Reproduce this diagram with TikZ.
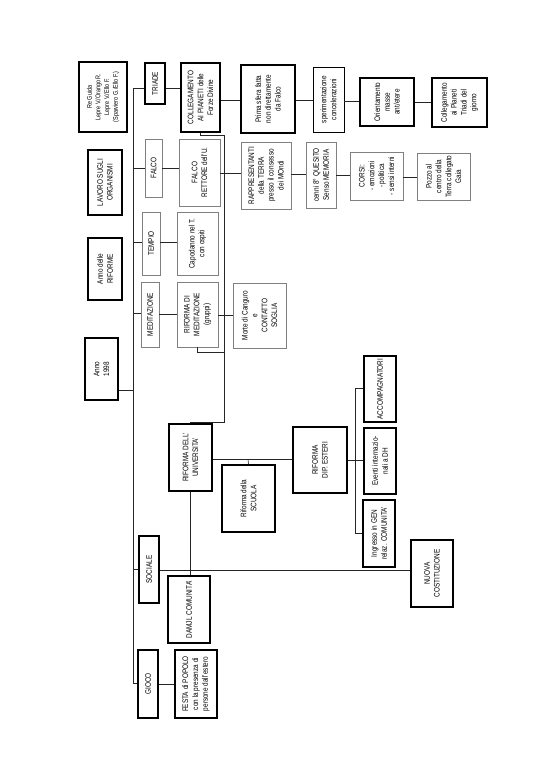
\documentclass[tikz,border=0pt]{standalone}
\usepackage{fontspec}
\setmainfont{Liberation Sans}[FakeStretch=0.8]
\tikzset{
  bb/.style={rotate=90, align=center, inner sep=0.5pt, font=\fontsize{8.8}{10.8}\selectfont},
  thk/.style={bb, draw=black, line width=1.5pt},
  med/.style={bb, draw=black, line width=1pt},
  thn/.style={bb, draw=black!50, line width=0.5pt},
  ln/.style={draw=black!85, line width=0.7pt},
}
\newcommand\hbx[7]{%
  \pgfmathsetmacro\hcx{(#3+#5)/2}%
  \pgfmathsetmacro\hcy{(#4+#6)/2}%
  \pgfmathsetmacro\hbw{(#6-#4)*0.3857}%
  \pgfmathsetmacro\hbh{(#5-#3)*0.3857}%
  \node[#2, minimum width=\hbw mm, minimum height=\hbh mm] (#1) at (\hcx,\hcy) {#7};}
\begin{document}
\begin{tikzpicture}[x=0.3857mm,y=-0.3857mm]
\fill[white] (0,0) rectangle (535,770);
\useasboundingbox (0,0) rectangle (535,770);
% header boxes
\hbx{reg}{thk,font=\fontsize{7.5}{9.5}\selectfont}{79}{62}{127}{132}{Re Guida\\Lepre V./Orango R.\\Lepre V./Ello F.\\(Sparviero G./Ello F.)}
\hbx{lav}{thk}{88}{150}{122}{215}{LAVORO SUGLI\\ORGANISMI}
\hbx{ard}{thk}{88}{238}{122}{300}{Anno delle\\RIFORME}
\hbx{a98}{thk}{85}{338}{118}{400}{Anno\\1998}
% left column
\hbx{tri}{thk}{145}{63}{165}{104}{TRIADE}
\hbx{fal}{thn}{145}{139}{162}{197}{FALCO}
\hbx{tem}{thn}{142}{212}{160}{275}{TEMPIO}
\hbx{med}{thn}{141}{282}{159}{347}{MEDITAZIONE}
\hbx{soc}{thk}{139}{536}{159}{603}{SOCIALE}
\hbx{gio}{thk}{138}{650}{158}{718}{GIOCO}
% second column
\hbx{col}{thk}{181}{63}{220}{132}{COLLEGAMENTO\\AI PIANETI delle\\Forze Divine}
\hbx{fre}{thn}{179}{139}{220}{206}{FALCO\\RETTORE dell'U.}
\hbx{cap}{thn}{177}{212}{218}{275}{Capodanno nel T.\\con ospiti}
\hbx{rim}{thn}{177}{282}{218}{347}{RIFORMA DI\\MEDITAZIONE\\(gruppi)}
\hbx{uni}{thk}{169}{424}{212}{491}{RIFORMA DELL'\\UNIVERSITA'}
\hbx{dam}{thk}{168}{576}{210}{643}{DAMJL COMUNITA'}
\hbx{fes}{thk}{175}{650}{217}{718}{FESTA di POPOLO\\con la presenza di\\persone dall'estero}
% third column
\hbx{pri}{thk}{241}{65}{295}{133}{Prima sfera fatta\\non direttamente\\da Falco}
\hbx{rap}{thn}{241}{142}{291}{209}{RAPPRESENTANTI\\della TERRA\\presso il consesso\\dei MOndi}
\hbx{mor}{thn}{233}{283}{286}{348}{Morte di Canguro\\e\\CONTATTO\\SOGLIA}
\hbx{scu}{thk}{222}{465}{275}{532}{Riforma della\\SCUOLA}
\hbx{dip}{thk}{293}{427}{347}{493}{RIFORMA\\DIP. ESTERI}
% fourth column
\hbx{spe}{med}{313}{67}{344}{132}{sperimentazione\\concelerazioni}
\hbx{cen}{thn}{306}{142}{336}{208}{cenni 8\textdegree{} QUESITO\\Senso MEMORIA}
\hbx{cor}{thn}{350}{152}{403}{200}{CORSI:\\- emozioni\\- politica\\- sensi interni}
\hbx{ori}{thk}{360}{78}{414}{126}{Orientamento\\masse\\ant/etere}
\hbx{cpl}{thk}{432}{78}{487}{127}{Collegamento\\ai Pianeti\\Triadi del\\giorno}
\hbx{poz}{thn}{417}{153}{470}{200}{Pozzo al\\centro della\\Terra collegato\\Gaia}
\hbx{acc}{thk}{364}{356}{396}{422}{ACCOMPAGNATORI}
\hbx{eve}{thk}{364}{428}{396}{494}{Eventi internazio-\\nali a DH}
\hbx{ing}{thk}{363}{500}{395}{567}{Ingresso in GEN\\relaz. COMUNITA'}
\hbx{nuo}{thk}{411}{540}{453}{607}{NUOVA\\COSTITUZIONE}
% trunk
\coordinate (t1) at (133,88);
\coordinate (t2) at (133,168);
\coordinate (t3) at (133,242);
\coordinate (t4) at (133,313);
\coordinate (t5) at (133,390);
\coordinate (t6) at (133,569);
\coordinate (t7) at (133,683);
\draw[ln] (t1) -- (t7);
\draw[ln] (t1) -- (tri.north |- t1);
\draw[ln] (t2) -- (fal.north |- t2);
\draw[ln] (t3) -- (tem.north |- t3);
\draw[ln] (t4) -- (med.north |- t4);
\draw[ln] (a98.south |- t5) -- (t5);
\draw[ln] (t6) -- (soc.north |- t6);
\draw[ln] (t7) -- (gio.north |- t7);
% rows
\draw[ln] (tri.south |- 0,88) -- (col.north |- 0,88);
\draw[ln] (col.south |- 0,100) -- (pri.north |- 0,100);
\draw[ln] (pri.south |- 0,100) -- (spe.north |- 0,100);
\draw[ln] (spe.south |- 0,101) -- (ori.north |- 0,101);
\draw[ln] (ori.south |- 0,102) -- (cpl.north |- 0,102);
\draw[ln] (fal.south |- 0,168) -- (fre.north |- 0,168);
\draw[ln] (fre.south |- 0,173) -- (rap.north |- 0,173);
\draw[ln] (rap.south |- 0,174) -- (cen.north |- 0,174);
\draw[ln] (cen.south |- 0,175) -- (cor.north |- 0,175);
\draw[ln] (cor.south |- 0,177) -- (poz.north |- 0,177);
\draw[ln] (tem.south |- 0,242) -- (cap.north |- 0,242);
\draw[ln] (med.south |- 0,314) -- (rim.north |- 0,314);
\draw[ln] (rim.south |- 0,315) -- (mor.north |- 0,315);
% spine
\coordinate (s1) at (224,135);
\coordinate (s2) at (224,422);
\coordinate (s3) at (224,352);
\draw[ln] (col.west) -- (col.west |- s1) -- (s1) -- (s2) -- (uni.east |- s2) -- (uni.east);
\draw[ln] (197,0 |- rim.west) -- (197,352) -- (s3);
% university branch
\coordinate (u1) at (248,459);
\draw[ln] (uni.south |- u1) -- (dip.north |- u1);
\draw[ln] (scu.east) -- (u1);
\draw[ln] (uni.west) -- (uni.west |- dam.east);
\draw[ln] (soc.south |- 0,570) -- (nuo.north |- 0,570);
\draw[ln] (gio.south |- 0,684) -- (fes.north |- 0,684);
% bracket
\coordinate (b1) at (355,388);
\coordinate (b2) at (355,533);
\draw[ln] (dip.south |- 0,460) -- (eve.north |- 0,460);
\draw[ln] (acc.north |- b1) -- (b1) -- (b2) -- (ing.north |- b2);
\end{tikzpicture}
\end{document}
